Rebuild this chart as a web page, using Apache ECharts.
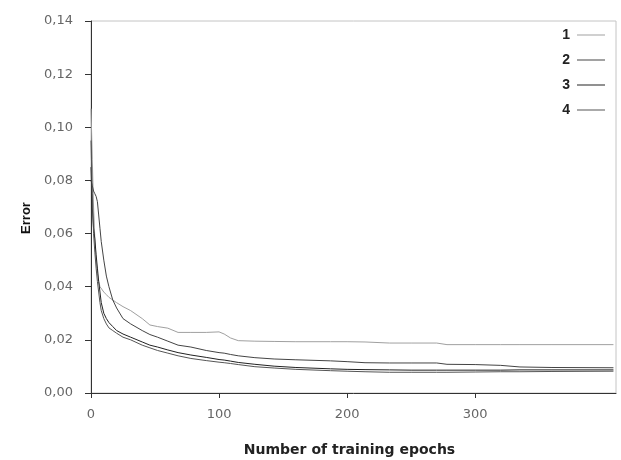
<!DOCTYPE html>
<html>
<head>
<meta charset="utf-8">
<script src="https://cdn.jsdelivr.net/npm/echarts@6/dist/echarts.min.js"></script>
<style>html,body{margin:0;padding:0;background:#fff}#c{width:621px;height:460px}</style>
</head>
<body>
<div id="c"></div>
<script>
var epochs = [0,1,2,3,4,5,6,7,8,10,12,14,17,20,25,31,40,46,52,60,68,78,90,100,104,109,115,128,143,160,187,200,214,233,250,270,278,300,320,335,360,408];
var err1 = [0.107,0.088,0.070,0.058,0.050,0.045,0.042,0.040,0.0395,0.038,0.037,0.036,0.035,0.034,0.0325,0.031,0.028,0.0256,0.025,0.0244,0.0228,0.0228,0.0228,0.023,0.0222,0.0207,0.0197,0.0195,0.0194,0.0193,0.0193,0.0193,0.0192,0.0188,0.0188,0.0188,0.0182,0.0182,0.0182,0.0182,0.0182,0.0182];
var err2 = [0.080,0.078,0.076,0.075,0.074,0.072,0.067,0.062,0.057,0.050,0.044,0.040,0.035,0.032,0.028,0.026,0.0235,0.022,0.021,0.0195,0.018,0.0173,0.016,0.0152,0.015,0.0145,0.014,0.0133,0.0128,0.0125,0.0121,0.0118,0.0114,0.0113,0.0113,0.0113,0.0108,0.0107,0.0104,0.0098,0.0096,0.0095];
var err3 = [0.085,0.070,0.062,0.058,0.052,0.047,0.042,0.038,0.034,0.030,0.028,0.0265,0.025,0.0235,0.0222,0.021,0.0192,0.018,0.0173,0.0162,0.0152,0.0143,0.0134,0.0126,0.0124,0.012,0.0115,0.0108,0.0101,0.0096,0.0091,0.0089,0.0088,0.0087,0.0086,0.0086,0.0086,0.0086,0.0086,0.0087,0.0087,0.0087];
var err4 = [0.095,0.075,0.060,0.053,0.047,0.042,0.038,0.034,0.031,0.028,0.026,0.0245,0.0235,0.0225,0.021,0.020,0.018,0.017,0.016,0.015,0.014,0.013,0.0122,0.0116,0.0114,0.0111,0.0107,0.0099,0.0094,0.0089,0.0084,0.0082,0.008,0.0078,0.0078,0.0078,0.0078,0.0079,0.008,0.008,0.0081,0.0082];
var seriesNames = ['1','2','3','4'];
var seriesColors = ['#a0a0a0','#444444','#222222','#555555'];
var xTicks = [0,100,200,300];

function pairs(v){ return epochs.map(function(e,i){ return [e, v[i]]; }); }
var allVals = [err1, err2, err3, err4];

var chart = echarts.init(document.getElementById('c'), null, {renderer:'canvas'});
chart.setOption({
  animation:false,
  backgroundColor:'#fff',
  grid:{left:91, right:5, top:21, bottom:67, show:true, borderColor:'#c4c4c4', borderWidth:1, backgroundColor:'transparent', outerBoundsMode:'none', containLabel:false},
  legend:{
    orient:'vertical', right:16, top:28, align:'right', itemGap:11, padding:0,
    itemWidth:28, itemHeight:1, icon:'rect',
    textStyle:{fontFamily:'Liberation Sans', fontWeight:'bold', fontSize:14, lineHeight:14, color:'#222', padding:[0,2,0,0]},
    data:seriesNames.map(function(n,i){ return {name:n, itemStyle:{color:seriesColors[i]}}; })
  },
  xAxis:{
    type:'value', min:0, max:410, interval:100,
    name:'Number of training epochs', nameLocation:'middle', nameGap:50,
    nameTextStyle:{fontFamily:'DejaVu Sans', fontSize:14, fontWeight:'bold', color:'#222', padding:[0,8,0,0]},
    axisLine:{lineStyle:{color:'#333', width:1}},
    axisTick:{show:true, length:5, lineStyle:{color:'#333'}, customValues:xTicks},
    axisLabel:{customValues:xTicks, margin:15, fontFamily:'DejaVu Sans', fontSize:13, color:'#666'},
    splitLine:{show:false}
  },
  yAxis:{
    type:'value', min:0, max:0.14, interval:0.02,
    name:'Error', nameLocation:'middle', nameGap:58, nameRotate:90,
    nameTextStyle:{fontFamily:'Liberation Sans', fontSize:13, fontWeight:'bold', color:'#111', padding:[0,22,0,0]},
    axisLine:{show:true, lineStyle:{color:'#333', width:1}},
    axisTick:{show:true, length:6, lineStyle:{color:'#333'}},
    axisLabel:{margin:18, fontFamily:'DejaVu Sans', fontSize:13, color:'#666',
      formatter:function(v){ return v.toFixed(2).replace('.', ','); }},
    splitLine:{show:false}
  },
  series:allVals.map(function(v,i){
    return {name:seriesNames[i], type:'line', data:pairs(v), symbol:'none', showSymbol:false,
      lineStyle:{color:seriesColors[i], width:1}, itemStyle:{color:seriesColors[i]}};
  })
});
</script>
</body>
</html>
